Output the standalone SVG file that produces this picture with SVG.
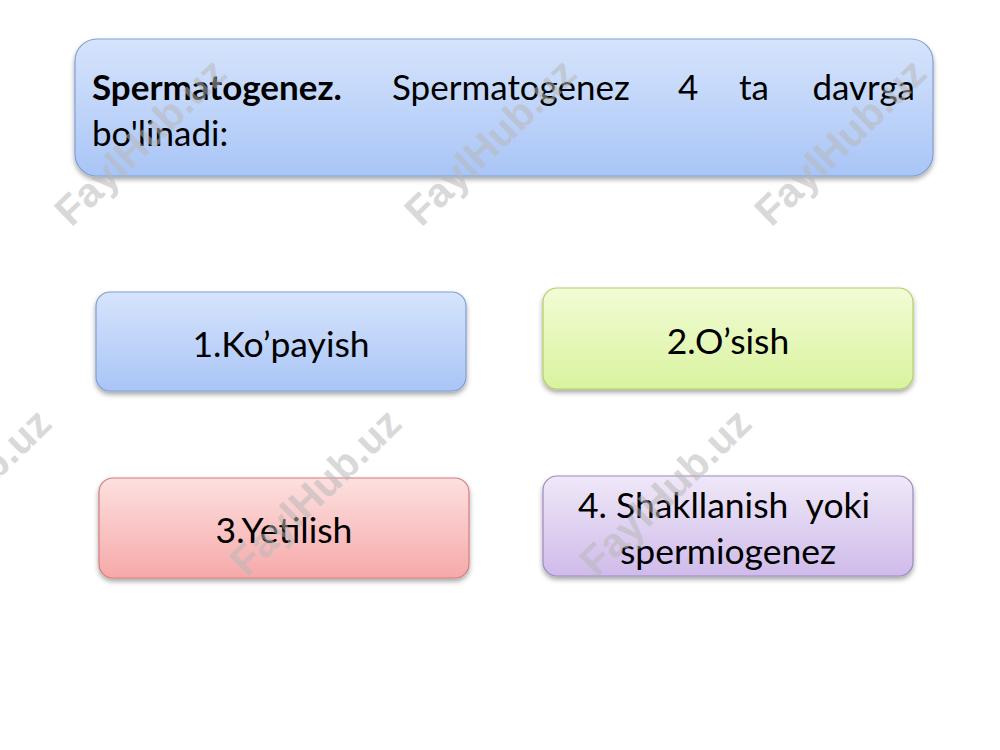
<svg xmlns="http://www.w3.org/2000/svg" width="1000" height="750" viewBox="0 0 1000 750">
<style>
text{font-family:Lato,"Open Sans","Liberation Sans",sans-serif;fill:#000}
.lbl{font-size:35.5px;text-anchor:middle}
.top{font-size:35px}
.wm{font-family:"Liberation Sans",Arial,sans-serif;font-weight:bold;font-size:41px;fill:#b8b8b8;fill-opacity:0.55;text-anchor:middle}
</style>
<defs>
<filter id="sh" x="-10%" y="-20%" width="120%" height="150%">
<feDropShadow dx="0" dy="3" stdDeviation="2.5" flood-color="#000" flood-opacity="0.35"/>
</filter>
<linearGradient id="gBlue" x1="0" y1="0" x2="0" y2="1">
<stop offset="0" stop-color="#d6e4fc"/><stop offset="1" stop-color="#a9c5f6"/>
</linearGradient>
<linearGradient id="gGreen" x1="0" y1="0" x2="0" y2="1">
<stop offset="0" stop-color="#f2fcd6"/><stop offset="1" stop-color="#d9f39e"/>
</linearGradient>
<linearGradient id="gRed" x1="0" y1="0" x2="0" y2="1">
<stop offset="0" stop-color="#fde0e0"/><stop offset="1" stop-color="#f6a9a9"/>
</linearGradient>
<linearGradient id="gPurple" x1="0" y1="0" x2="0" y2="1">
<stop offset="0" stop-color="#efe8f8"/><stop offset="1" stop-color="#cfbbea"/>
</linearGradient>
</defs>
<rect width="1000" height="750" fill="#fff"/>
<g id="title">
<rect x="75" y="39" width="858" height="137" rx="22" fill="url(#gBlue)" stroke="#7f9fd3" stroke-width="1.2" filter="url(#sh)"/>
<text class="top" y="100"><tspan x="92" font-weight="bold">Spermatogenez.</tspan><tspan x="392">Spermatogenez</tspan><tspan x="678">4</tspan><tspan x="739">ta</tspan><tspan x="915" text-anchor="end">davrga</tspan></text>
<text class="top" x="92" y="146">bo'linadi:</text>
</g>
<g id="n1">
<rect x="96" y="292" width="370" height="99" rx="14" fill="url(#gBlue)" stroke="#7f9fd3" stroke-width="1.2" filter="url(#sh)"/>
<text class="lbl" x="281" y="357">1.Ko’payish</text>
</g>
<g id="n2">
<rect x="543" y="288" width="370" height="101" rx="14" fill="url(#gGreen)" stroke="#b3cf6a" stroke-width="1.2" filter="url(#sh)"/>
<text class="lbl" x="728" y="354">2.O’sish</text>
</g>
<g id="n3">
<rect x="99" y="478" width="370" height="100" rx="14" fill="url(#gRed)" stroke="#d47c7c" stroke-width="1.2" filter="url(#sh)"/>
<text class="lbl" x="284" y="543">3.Yetilish</text>
</g>
<g id="n4">
<rect x="543" y="476" width="370" height="100" rx="14" fill="url(#gPurple)" stroke="#9e89c2" stroke-width="1.2" filter="url(#sh)"/>
<text class="lbl" x="724" y="518" xml:space="preserve">4. Shakllanish  yoki</text>
<text class="lbl" x="728" y="564">spermiogenez</text>
</g>
<g id="connectors"></g>
<g id="watermarks">
<text class="wm" transform="translate(150,152) rotate(-44)">FaylHub.uz</text>
<text class="wm" transform="translate(500,152) rotate(-44)">FaylHub.uz</text>
<text class="wm" transform="translate(850,152) rotate(-44)">FaylHub.uz</text>
<text class="wm" transform="translate(-25,502) rotate(-44)">FaylHub.uz</text>
<text class="wm" transform="translate(325,502) rotate(-44)">FaylHub.uz</text>
<text class="wm" transform="translate(675,502) rotate(-44)">FaylHub.uz</text>
</g>
</svg>
